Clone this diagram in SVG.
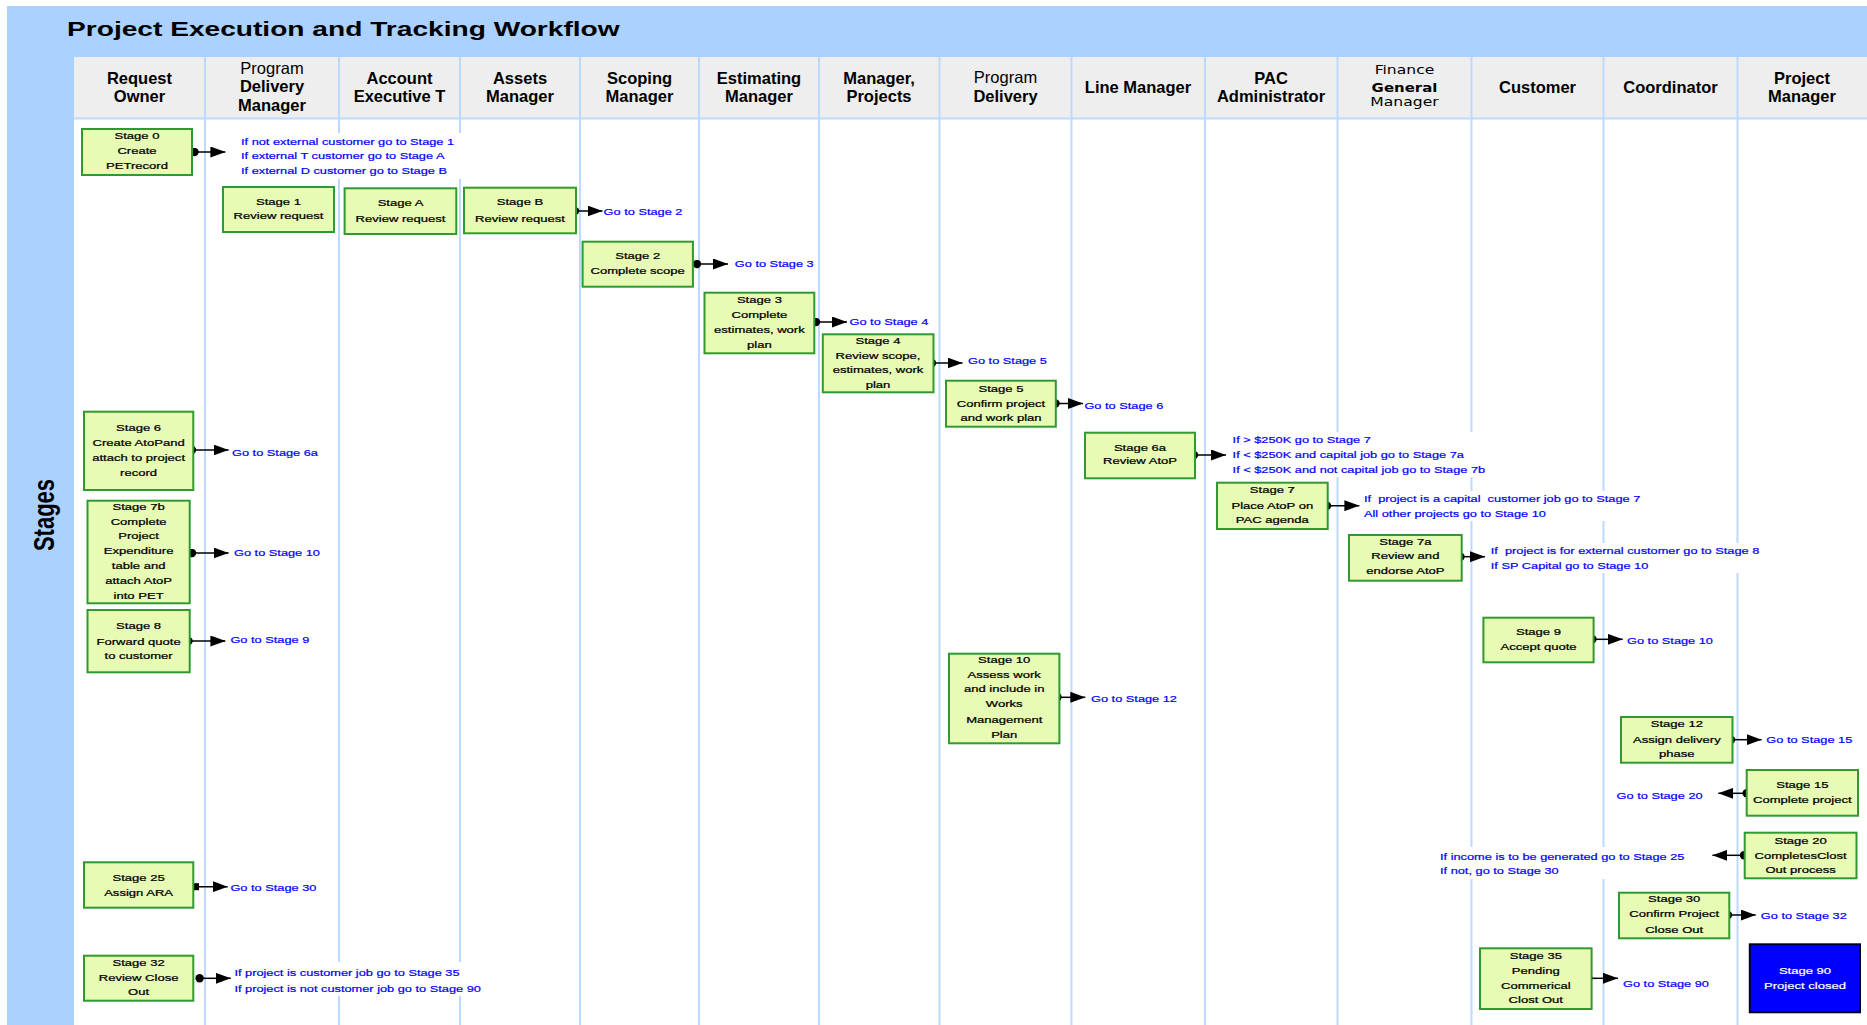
<svg xmlns="http://www.w3.org/2000/svg" width="1867" height="1025" viewBox="0 0 1867 1025">
<style>
.bt{font-family:"Liberation Sans",Arial,sans-serif;font-size:9.8px;fill:#000;stroke:#000;stroke-width:0.25px;text-anchor:middle}
.wt{font-family:"Liberation Sans",Arial,sans-serif;font-size:9.8px;fill:#fff;stroke:#fff;stroke-width:0.2px;text-anchor:middle}
.lt{font-family:"Liberation Sans",Arial,sans-serif;font-size:9.6px;fill:#0000FF;stroke:#0000FF;stroke-width:0.2px}
.le{font-family:"Liberation Sans",Arial,sans-serif;font-size:9.6px;fill:#0000FF;stroke:#0000FF;stroke-width:0.2px;text-anchor:end}
.hd{font-family:"Liberation Sans",Arial,sans-serif;font-size:16.5px;font-weight:bold;fill:#000;text-anchor:middle}
.hr{font-family:"Liberation Sans",Arial,sans-serif;font-size:16.5px;fill:#000;text-anchor:middle}
.fs{font-family:"DejaVu Sans",Verdana,sans-serif;font-size:12px;fill:#000;text-anchor:middle}
.fb{font-family:"DejaVu Sans",Verdana,sans-serif;font-size:11.5px;font-weight:bold;fill:#000;text-anchor:middle}
.ttl{font-family:"Liberation Sans",Arial,sans-serif;font-size:21px;font-weight:bold;fill:#000}
.stg{font-family:"Liberation Sans",Arial,sans-serif;font-size:22px;font-weight:bold;fill:#000;text-anchor:middle}
.box{fill:#E8FBB5;stroke:#2F9A2F;stroke-width:2}
.end{fill:#0000FF;stroke:#000022;stroke-width:2}
.lane{stroke:#BCD9FF;stroke-width:2;fill:none}
.bg{fill:#fff}
.cn{stroke:#000;stroke-width:1.5;fill:none;marker-start:url(#dot);marker-end:url(#arr)}
.cs{stroke:#000;stroke-width:1.5;fill:none;marker-start:url(#sq);marker-end:url(#arr)}
</style>
<defs>
<marker id="arr" markerUnits="userSpaceOnUse" markerWidth="15" markerHeight="11" refX="15" refY="5.5" orient="auto"><path d="M0,0 L15,5.5 L0,11 Z" fill="#000"/></marker>
<marker id="dot" markerUnits="userSpaceOnUse" markerWidth="9" markerHeight="9" refX="4.5" refY="4.5" orient="auto"><circle cx="4.5" cy="4.5" r="4.2" fill="#000"/></marker>
<marker id="sq" markerUnits="userSpaceOnUse" markerWidth="8" markerHeight="8" refX="4" refY="4" orient="auto"><rect x="0.5" y="0.5" width="7" height="7" fill="#000"/></marker>
</defs>
<rect x="0" y="0" width="1867" height="1025" fill="#fff"/>
<g id="frame">
<rect x="7" y="6" width="1860" height="51" fill="#ABD1FE"/>
<rect x="7" y="6" width="67" height="1019" fill="#ABD1FE"/>
<rect x="74" y="57" width="1793" height="61" fill="#EEEEEE"/>
<text class="ttl" transform="matrix(1.34 0 0 1 67 0)" x="0" y="36">Project Execution and Tracking Workflow</text>
<text class="stg" transform="translate(54,515) scale(1.333,1) rotate(-90)" x="0" y="0">Stages</text>
</g>
<g id="lanes">
<line class="lane" x1="74" y1="118.5" x2="1867" y2="118.5"/>
<line class="lane" x1="205" y1="57" x2="205" y2="1025"/>
<line class="lane" x1="339" y1="57" x2="339" y2="1025"/>
<line class="lane" x1="460" y1="57" x2="460" y2="1025"/>
<line class="lane" x1="580" y1="57" x2="580" y2="1025"/>
<line class="lane" x1="699" y1="57" x2="699" y2="1025"/>
<line class="lane" x1="819" y1="57" x2="819" y2="1025"/>
<line class="lane" x1="939.5" y1="57" x2="939.5" y2="1025"/>
<line class="lane" x1="1071.5" y1="57" x2="1071.5" y2="1025"/>
<line class="lane" x1="1205" y1="57" x2="1205" y2="1025"/>
<line class="lane" x1="1337.5" y1="57" x2="1337.5" y2="1025"/>
<line class="lane" x1="1471.5" y1="57" x2="1471.5" y2="1025"/>
<line class="lane" x1="1603.5" y1="57" x2="1603.5" y2="1025"/>
<line class="lane" x1="1737.5" y1="57" x2="1737.5" y2="1025"/>
</g>
<g id="headers">
<text class="hd" x="139.5" y="84">Request</text><text class="hd" x="139.5" y="102.3">Owner</text>
<text class="hr" x="272" y="73.5">Program</text><text class="hd" x="272" y="92">Delivery</text><text class="hd" x="272" y="110.5">Manager</text>
<text class="hd" x="399.5" y="84">Account</text><text class="hd" x="399.5" y="102.3">Executive T</text>
<text class="hd" x="520" y="84">Assets</text><text class="hd" x="520" y="102.3">Manager</text>
<text class="hd" x="639.5" y="84">Scoping</text><text class="hd" x="639.5" y="102.3">Manager</text>
<text class="hd" x="759" y="84">Estimating</text><text class="hd" x="759" y="102.3">Manager</text>
<text class="hd" x="879" y="84">Manager,</text><text class="hd" x="879" y="102.3">Projects</text>
<text class="hr" x="1005.5" y="83">Program</text><text class="hd" x="1005.5" y="101.7">Delivery</text>
<text class="hd" x="1138" y="93">Line Manager</text>
<text class="hd" x="1271" y="84">PAC</text><text class="hd" x="1271" y="102.3">Administrator</text>
<text class="fs" transform="matrix(1.3 0 0 1 1404.5 0)" x="0" y="74.5">Finance</text><text class="fb" transform="matrix(1.3 0 0 1 1404.5 0)" x="0" y="92">General</text><text class="fs" transform="matrix(1.3 0 0 1 1404.5 0)" x="0" y="106.5">Manager</text>
<text class="hd" x="1537.5" y="93">Customer</text>
<text class="hd" x="1670.5" y="93">Coordinator</text>
<text class="hd" x="1802" y="84">Project</text><text class="hd" x="1802" y="102.3">Manager</text>
</g>
<g id="connectors">
<rect class="bg" x="237" y="133" width="226" height="46"/>
<rect class="bg" x="1229" y="432" width="260" height="45"/>
<rect class="bg" x="1361" y="491" width="286" height="30"/>
<rect class="bg" x="1487" y="543" width="278" height="30"/>
<rect class="bg" x="1437" y="847" width="251" height="32"/>
<rect class="bg" x="231" y="962" width="255" height="34"/>
<path class="cn" d="M194.5,152 H225.4"/>
<path class="cn" d="M575,211 H602.5"/>
<path class="cn" d="M697,264 H728"/>
<path class="cn" d="M816,322 H847"/>
<path class="cn" d="M932,363 H962.5"/>
<path class="cn" d="M1055.5,403.5 H1083"/>
<path class="cn" d="M1194,455 H1226"/>
<path class="cn" d="M1327,505.7 H1359.4"/>
<path class="cn" d="M1460.5,556.7 H1485"/>
<path class="cn" d="M192,450 H228.6"/>
<path class="cn" d="M192,553 H228.6"/>
<path class="cn" d="M188.5,641 H225.4"/>
<path class="cn" d="M1057.5,697.3 H1085.3"/>
<path class="cn" d="M1592.4,639.3 H1622.7"/>
<path class="cn" d="M1731,739.7 H1761.6"/>
<path class="cn" d="M1746.7,793.3 H1718.3"/>
<path class="cn" d="M1744,855.3 H1712.4"/>
<path class="cn" d="M1728,915 H1755.7"/>
<path class="cn" d="M1588.4,978.3 H1618"/>
<path class="cs" d="M195.5,886.7 H227.7"/>
<path class="cn" d="M199.6,978.3 H230.8"/>
<text class="lt" transform="matrix(1.333 0 0 1 241 0)"><tspan x="0" y="145.2">If not external customer go to Stage 1</tspan><tspan x="0" y="159.5">If external T customer go to Stage A</tspan><tspan x="0" y="174.2">If external D customer go to Stage B</tspan></text>
<text class="lt" transform="matrix(1.333 0 0 1 603.6 0)" x="0" y="215.5">Go to Stage 2</text>
<text class="lt" transform="matrix(1.333 0 0 1 734.8 0)" x="0" y="267.5">Go to Stage 3</text>
<text class="lt" transform="matrix(1.333 0 0 1 849.5 0)" x="0" y="325.5">Go to Stage 4</text>
<text class="lt" transform="matrix(1.333 0 0 1 968 0)" x="0" y="364">Go to Stage 5</text>
<text class="lt" transform="matrix(1.333 0 0 1 1084.4 0)" x="0" y="409">Go to Stage 6</text>
<text class="lt" transform="matrix(1.333 0 0 1 1232.6 0)"><tspan x="0" y="443.5">If &gt; $250K go to Stage 7</tspan><tspan x="0" y="458.5">If &lt; $250K and capital job go to Stage 7a</tspan><tspan x="0" y="472.8">If &lt; $250K and not capital job go to Stage 7b</tspan></text>
<text class="lt" xml:space="preserve" transform="matrix(1.333 0 0 1 1364 0)"><tspan x="0" y="502.5">If  project is a capital  customer job go to Stage 7</tspan><tspan x="0" y="516.8">All other projects go to Stage 10</tspan></text>
<text class="lt" xml:space="preserve" transform="matrix(1.333 0 0 1 1490.8 0)"><tspan x="0" y="554.5">If  project is for external customer go to Stage 8</tspan><tspan x="0" y="569.2">If SP Capital go to Stage 10</tspan></text>
<text class="lt" transform="matrix(1.333 0 0 1 232 0)" x="0" y="455.8">Go to Stage 6a</text>
<text class="lt" transform="matrix(1.333 0 0 1 234 0)" x="0" y="555.8">Go to Stage 10</text>
<text class="lt" transform="matrix(1.333 0 0 1 230.4 0)" x="0" y="643.5">Go to Stage 9</text>
<text class="lt" transform="matrix(1.333 0 0 1 1091 0)" x="0" y="701.8">Go to Stage 12</text>
<text class="lt" transform="matrix(1.333 0 0 1 1627 0)" x="0" y="644.5">Go to Stage 10</text>
<text class="lt" transform="matrix(1.333 0 0 1 1766.3 0)" x="0" y="743.5">Go to Stage 15</text>
<text class="le" transform="matrix(1.333 0 0 1 1702.6 0)" x="0" y="799.2">Go to Stage 20</text>
<text class="lt" transform="matrix(1.333 0 0 1 1440 0)"><tspan x="0" y="860.2">If income is to be generated go to Stage 25</tspan><tspan x="0" y="874.5">If not, go to Stage 30</tspan></text>
<text class="lt" transform="matrix(1.333 0 0 1 1760.8 0)" x="0" y="918.8">Go to Stage 32</text>
<text class="lt" transform="matrix(1.333 0 0 1 1623 0)" x="0" y="987.5">Go to Stage 90</text>
<text class="lt" transform="matrix(1.333 0 0 1 230.4 0)" x="0" y="890.8">Go to Stage 30</text>
<text class="lt" transform="matrix(1.333 0 0 1 234.4 0)"><tspan x="0" y="975.8">If project is customer job go to Stage 35</tspan><tspan x="0" y="991.8">If project is not customer job go to Stage 90</tspan></text>
</g>
<g id="stage0"><rect class="box" x="82" y="129" width="110" height="46"/><text class="bt" transform="matrix(1.333 0 0 1 137 0)"><tspan x="0" y="139.5">Stage 0</tspan><tspan x="0" y="154.5">Create</tspan><tspan x="0" y="168.8">PETrecord</tspan></text></g>
<g id="stage1"><rect class="box" x="223" y="187" width="111" height="45"/><text class="bt" transform="matrix(1.333 0 0 1 278.5 0)"><tspan x="0" y="205.2">Stage 1</tspan><tspan x="0" y="219.2">Review request</tspan></text></g>
<g id="stageA"><rect class="box" x="344.6" y="188.3" width="111.7" height="45.7"/><text class="bt" transform="matrix(1.333 0 0 1 400.5 0)"><tspan x="0" y="205.8">Stage A</tspan><tspan x="0" y="221.8">Review request</tspan></text></g>
<g id="stageB"><rect class="box" x="464" y="187.7" width="112" height="45.6"/><text class="bt" transform="matrix(1.333 0 0 1 520 0)"><tspan x="0" y="205.2">Stage B</tspan><tspan x="0" y="221.8">Review request</tspan></text></g>
<g id="stage2"><rect class="box" x="582.6" y="241.7" width="110.3" height="45"/><text class="bt" transform="matrix(1.333 0 0 1 637.7 0)"><tspan x="0" y="259.2">Stage 2</tspan><tspan x="0" y="274.2">Complete scope</tspan></text></g>
<g id="stage3"><rect class="box" x="704.5" y="292.7" width="109.8" height="60.6"/><text class="bt" transform="matrix(1.333 0 0 1 759.4 0)"><tspan x="0" y="303.5">Stage 3</tspan><tspan x="0" y="318">Complete</tspan><tspan x="0" y="333.5">estimates, work</tspan><tspan x="0" y="348">plan</tspan></text></g>
<g id="stage4"><rect class="box" x="822.8" y="334.3" width="110.7" height="58"/><text class="bt" transform="matrix(1.333 0 0 1 878 0)"><tspan x="0" y="344.2">Stage 4</tspan><tspan x="0" y="359.2">Review scope,</tspan><tspan x="0" y="373.5">estimates, work</tspan><tspan x="0" y="387.8">plan</tspan></text></g>
<g id="stage5"><rect class="box" x="946" y="380.7" width="109.8" height="46"/><text class="bt" transform="matrix(1.333 0 0 1 1001 0)"><tspan x="0" y="391.8">Stage 5</tspan><tspan x="0" y="406.8">Confirm project</tspan><tspan x="0" y="421.2">and work plan</tspan></text></g>
<g id="stage6a"><rect class="box" x="1085" y="432.7" width="110" height="45.6"/><text class="bt" transform="matrix(1.333 0 0 1 1140 0)"><tspan x="0" y="450.8">Stage 6a</tspan><tspan x="0" y="464.5">Review AtoP</tspan></text></g>
<g id="stage7"><rect class="box" x="1217" y="482.7" width="110.7" height="46.3"/><text class="bt" transform="matrix(1.333 0 0 1 1272.3 0)"><tspan x="0" y="492.8">Stage 7</tspan><tspan x="0" y="509.2">Place AtoP on</tspan><tspan x="0" y="523.5">PAC agenda</tspan></text></g>
<g id="stage7a"><rect class="box" x="1349" y="535" width="112.7" height="45.7"/><text class="bt" transform="matrix(1.333 0 0 1 1405.3 0)"><tspan x="0" y="545.2">Stage 7a</tspan><tspan x="0" y="559.5">Review and</tspan><tspan x="0" y="574.2">endorse AtoP</tspan></text></g>
<g id="stage6"><rect class="box" x="84" y="411.7" width="109.3" height="78.3"/><text class="bt" transform="matrix(1.333 0 0 1 138.6 0)"><tspan x="0" y="430.8">Stage 6</tspan><tspan x="0" y="446.2">Create AtoPand</tspan><tspan x="0" y="460.8">attach to project</tspan><tspan x="0" y="475.8">record</tspan></text></g>
<g id="stage7b"><rect class="box" x="87.5" y="500.7" width="102.2" height="102.6"/><text class="bt" transform="matrix(1.333 0 0 1 138.6 0)"><tspan x="0" y="510.2">Stage 7b</tspan><tspan x="0" y="525.2">Complete</tspan><tspan x="0" y="539.5">Project</tspan><tspan x="0" y="554.5">Expenditure</tspan><tspan x="0" y="568.8">table and</tspan><tspan x="0" y="584.5">attach AtoP</tspan><tspan x="0" y="599.5">into PET</tspan></text></g>
<g id="stage8"><rect class="box" x="87.5" y="610" width="102.2" height="62.3"/><text class="bt" transform="matrix(1.333 0 0 1 138.6 0)"><tspan x="0" y="629.2">Stage 8</tspan><tspan x="0" y="644.8">Forward quote</tspan><tspan x="0" y="659.2">to customer</tspan></text></g>
<g id="stage10"><rect class="box" x="949" y="653.7" width="110.4" height="89.6"/><text class="bt" transform="matrix(1.333 0 0 1 1004.2 0)"><tspan x="0" y="663.5">Stage 10</tspan><tspan x="0" y="677.8">Assess work</tspan><tspan x="0" y="692.5">and include in</tspan><tspan x="0" y="706.8">Works</tspan><tspan x="0" y="722.8">Management</tspan><tspan x="0" y="737.8">Plan</tspan></text></g>
<g id="stage9"><rect class="box" x="1483.4" y="617.7" width="110.2" height="44.6"/><text class="bt" transform="matrix(1.333 0 0 1 1538.5 0)"><tspan x="0" y="635.2">Stage 9</tspan><tspan x="0" y="650.2">Accept quote</tspan></text></g>
<g id="stage12"><rect class="box" x="1621" y="717" width="111.5" height="45.7"/><text class="bt" transform="matrix(1.333 0 0 1 1676.8 0)"><tspan x="0" y="727.2">Stage 12</tspan><tspan x="0" y="742.8">Assign delivery</tspan><tspan x="0" y="757.5">phase</tspan></text></g>
<g id="stage15"><rect class="box" x="1746.7" y="770" width="111.3" height="45.7"/><text class="bt" transform="matrix(1.333 0 0 1 1802.3 0)"><tspan x="0" y="788.5">Stage 15</tspan><tspan x="0" y="802.8">Complete project</tspan></text></g>
<g id="stage20"><rect class="box" x="1744.7" y="832.7" width="111.8" height="45.6"/><text class="bt" transform="matrix(1.333 0 0 1 1800.6 0)"><tspan x="0" y="844.5">Stage 20</tspan><tspan x="0" y="859.2">CompletesClost</tspan><tspan x="0" y="873.5">Out process</tspan></text></g>
<g id="stage30"><rect class="box" x="1619" y="892.7" width="110.3" height="45.6"/><text class="bt" transform="matrix(1.333 0 0 1 1674.2 0)"><tspan x="0" y="902.5">Stage 30</tspan><tspan x="0" y="917.5">Confirm Project</tspan><tspan x="0" y="932.8">Close Out</tspan></text></g>
<g id="stage35"><rect class="box" x="1480" y="948.3" width="111.6" height="60.7"/><text class="bt" transform="matrix(1.333 0 0 1 1535.8 0)"><tspan x="0" y="959.5">Stage 35</tspan><tspan x="0" y="974.5">Pending</tspan><tspan x="0" y="989.2">Commerical</tspan><tspan x="0" y="1003.5">Clost Out</tspan></text></g>
<g id="stage90"><rect class="end" x="1749.8" y="944.3" width="110.2" height="68"/><text class="wt" transform="matrix(1.333 0 0 1 1805 0)"><tspan x="0" y="974.5">Stage 90</tspan><tspan x="0" y="989.2">Project closed</tspan></text></g>
<g id="stage25"><rect class="box" x="84" y="862.3" width="109.3" height="45.4"/><text class="bt" transform="matrix(1.333 0 0 1 138.6 0)"><tspan x="0" y="881.2">Stage 25</tspan><tspan x="0" y="895.8">Assign ARA</tspan></text></g>
<g id="stage32"><rect class="box" x="84" y="955.7" width="109.3" height="45"/><text class="bt" transform="matrix(1.333 0 0 1 138.6 0)"><tspan x="0" y="966.2">Stage 32</tspan><tspan x="0" y="980.8">Review Close</tspan><tspan x="0" y="995.2">Out</tspan></text></g>
</svg>
